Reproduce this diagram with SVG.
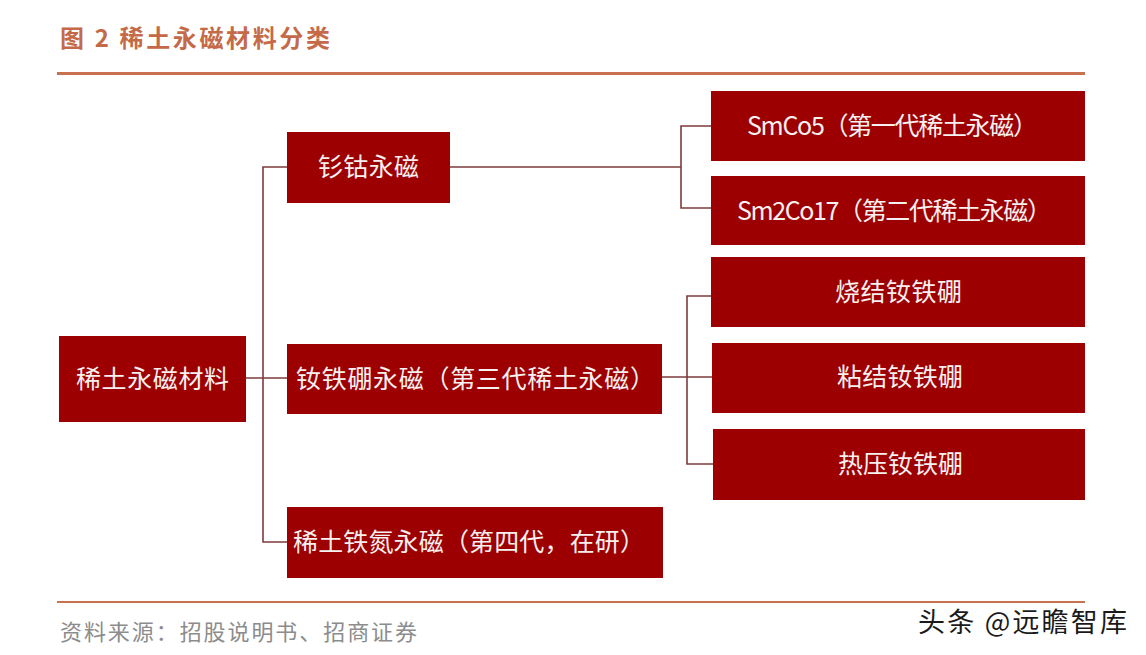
<svg xmlns="http://www.w3.org/2000/svg" width="1146" height="655" viewBox="0 0 1146 655">
<style>
.box{fill:#9C0000;}
.lbl{font-family:"Noto Sans CJK SC","Noto Sans",sans-serif;font-size:25px;fill:#F7F0F0;text-anchor:middle;dominant-baseline:central;}
.conn{fill:none;stroke:#7D3B3B;stroke-width:1.6;}
.rule{stroke:#C8704F;}
</style>
<rect width="1146" height="655" fill="#FFFFFF"/>
<text x="60" y="47" font-family="Noto Sans CJK SC, sans-serif" font-weight="bold" font-size="24" fill="#C46A48" textLength="270" lengthAdjust="spacing">图 2  稀土永磁材料分类</text>
<line class="rule" x1="57" y1="73.5" x2="1085" y2="73.5" stroke-width="3"/>
<line class="rule" x1="57" y1="602" x2="1085" y2="602" stroke-width="2"/>
<g id="connectors">
<polyline class="conn" points="287,167 263,167 263,542 287,542"/>
<line class="conn" x1="246" y1="378" x2="287" y2="378"/>
<line class="conn" x1="450" y1="167" x2="681" y2="167"/>
<polyline class="conn" points="711,126 681,126 681,208 711,208"/>
<polyline class="conn" points="711,296 687,296 687,464 713,464"/>
<line class="conn" x1="662" y1="377" x2="712" y2="377"/>
</g>
<g id="root">
<rect class="box" x="59" y="336" width="187" height="86"/>
<text class="lbl" x="152.5" y="377" textLength="153" lengthAdjust="spacing">稀土永磁材料</text>
</g>
<g id="smco">
<rect class="box" x="287" y="132" width="163" height="71"/>
<text class="lbl" x="368.5" y="165" textLength="101" lengthAdjust="spacing">钐钴永磁</text>
</g>
<g id="ndfeb">
<rect class="box" x="287" y="344" width="375" height="70"/>
<text class="lbl" x="475.5" y="377" textLength="359" lengthAdjust="spacing">钕铁硼永磁（第三代稀土永磁）</text>
</g>
<g id="fen">
<rect class="box" x="287" y="507" width="376" height="71"/>
<text class="lbl" x="469" y="540" textLength="352" lengthAdjust="spacing">稀土铁氮永磁（第四代，在研）</text>
</g>
<g id="smco5">
<rect class="box" x="711" y="91" width="374" height="70"/>
<text class="lbl" x="892.5" y="124" textLength="291" lengthAdjust="spacing">SmCo5（第一代稀土永磁）</text>
</g>
<g id="sm2co17">
<rect class="box" x="711" y="176" width="374" height="69"/>
<text class="lbl" x="894.5" y="209" textLength="315" lengthAdjust="spacing">Sm2Co17（第二代稀土永磁）</text>
</g>
<g id="sintered">
<rect class="box" x="711" y="257" width="374" height="70"/>
<text class="lbl" x="898.5" y="290" textLength="127" lengthAdjust="spacing">烧结钕铁硼</text>
</g>
<g id="bonded">
<rect class="box" x="712" y="343" width="373" height="70"/>
<text class="lbl" x="900" y="375" textLength="126" lengthAdjust="spacing">粘结钕铁硼</text>
</g>
<g id="hotpressed">
<rect class="box" x="713" y="429" width="372" height="71"/>
<text class="lbl" x="900.5" y="462" textLength="125" lengthAdjust="spacing">热压钕铁硼</text>
</g>
<text x="60" y="640" font-family="Noto Sans CJK SC, sans-serif" font-size="22" fill="#8C8C8C" textLength="357" lengthAdjust="spacing">资料来源：招股说明书、招商证券</text>
<text x="918" y="632" font-family="Noto Sans CJK SC, sans-serif" font-size="27" fill="#1A1A1A" textLength="209" lengthAdjust="spacing">头条 @远瞻智库</text>
</svg>
